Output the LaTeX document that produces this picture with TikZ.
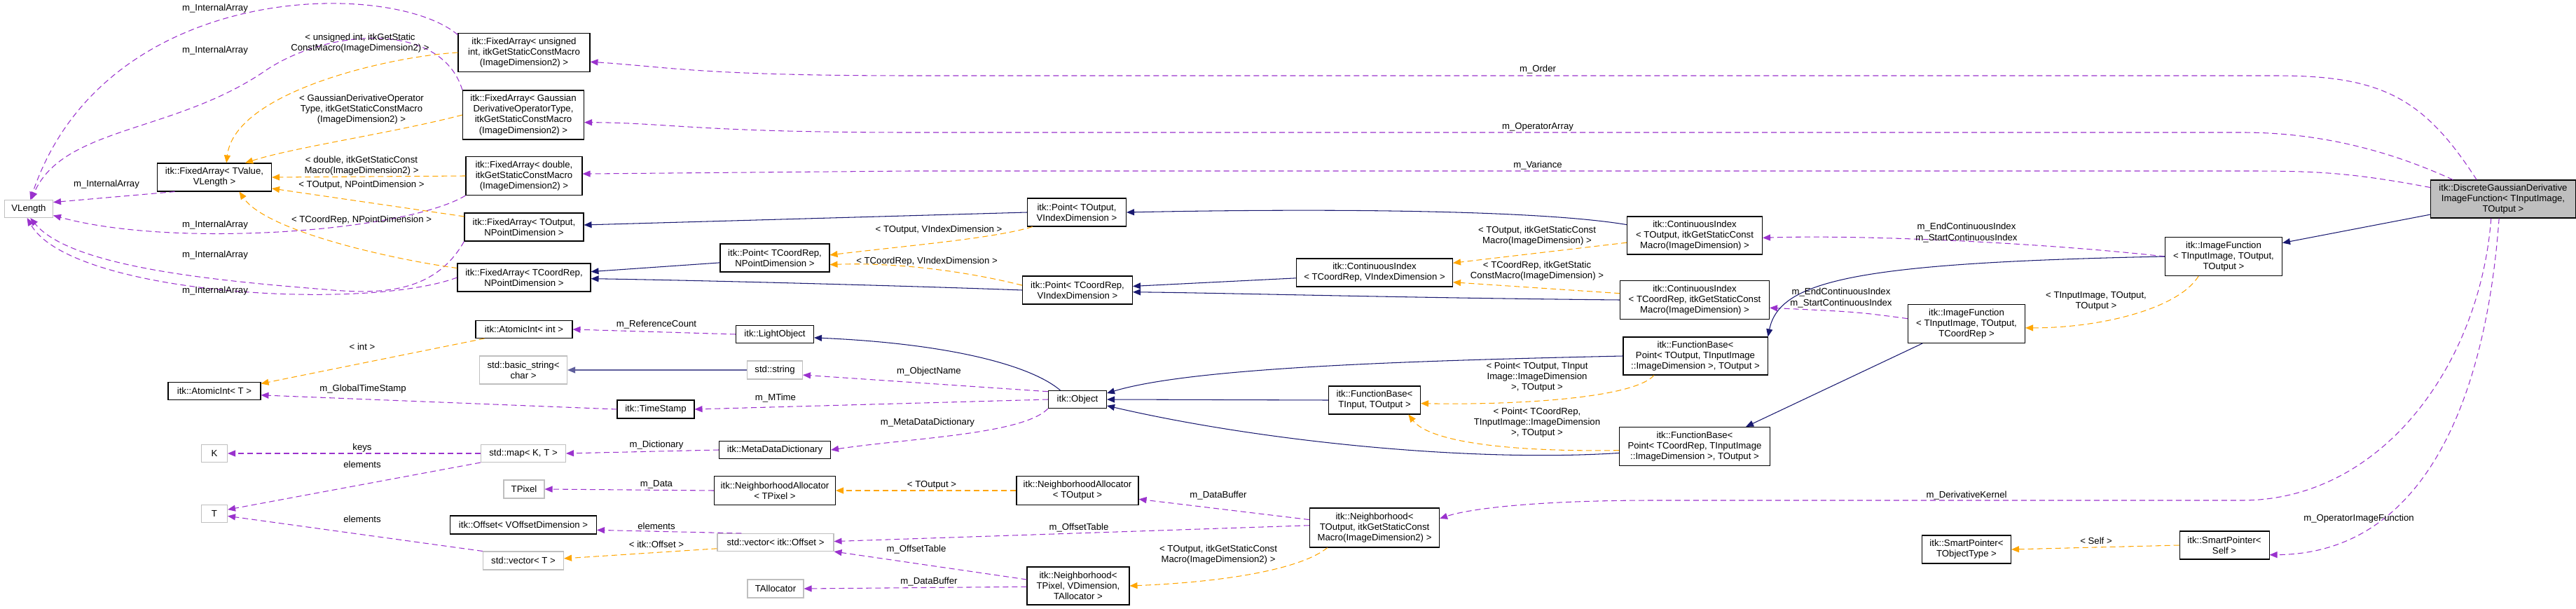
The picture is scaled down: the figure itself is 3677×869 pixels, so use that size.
\documentclass[tikz,border=0pt]{standalone}
\usepackage{fontspec}
\setmainfont{Liberation Sans}
\usetikzlibrary{arrows.meta}
\definecolor{usecolor}{HTML}{9A32CD}
\definecolor{tmplcolor}{HTML}{FFA500}
\definecolor{inhcolor}{HTML}{191970}
\definecolor{extcolor}{HTML}{BFBFBF}
\begin{document}
\begin{tikzpicture}[
    x=0.2mm, y=-0.2mm,
    cls/.style={draw=black,fill=white,line width=0.6pt,align=center,inner sep=1pt,font=\fontsize{7.5}{8.6}\selectfont},
    ext/.style={cls,draw=extcolor},
    lbl/.style={align=center,inner sep=0pt,font=\fontsize{7.5}{8.6}\selectfont},
    use/.style={usecolor,densely dashed,dash pattern=on 1.6mm off 1mm,line width=0.6pt,-{Triangle[length=2.2mm,width=1.8mm]}},
    tmpl/.style={use,tmplcolor},
    inh/.style={inhcolor,line width=0.6pt,-{Triangle[length=2.2mm,width=1.8mm]}}
  ]
    \useasboundingbox (0,0) rectangle (3677,869);

    % classes, left part
    \node[ext,minimum width=13.8mm,minimum height=5mm] (VLength) at (41,298) {VLength};
    \node[cls,minimum width=32.6mm,minimum height=8mm] (faT) at (306,253) {itk::FixedArray< TValue,\\ VLength >};
    \node[cls,minimum width=37.6mm,minimum height=11mm] (faU) at (748,75) {itk::FixedArray< unsigned\\ int, itkGetStaticConstMacro\\(ImageDimension2) >};
    \node[cls,minimum width=34.6mm,minimum height=14mm] (faG) at (747,164) {itk::FixedArray< Gaussian\\DerivativeOperatorType,\\ itkGetStaticConstMacro\\(ImageDimension2) >};
    \node[cls,minimum width=33.2mm,minimum height=11mm] (faD) at (748,251) {itk::FixedArray< double,\\ itkGetStaticConstMacro\\(ImageDimension2) >};
    \node[cls,minimum width=34mm,minimum height=8mm] (faO) at (748,324) {itk::FixedArray< TOutput,\\ NPointDimension >};
    \node[cls,minimum width=38mm,minimum height=8mm] (faC) at (748,396) {itk::FixedArray< TCoordRep,\\ NPointDimension >};
    \node[cls,minimum width=31.2mm,minimum height=8mm] (ptCN) at (1106,368) {itk::Point< TCoordRep,\\ NPointDimension >};
    \node[cls,minimum width=27.6mm,minimum height=5mm] (aiInt) at (748,470) {itk::AtomicInt< int >};
    \node[cls,minimum width=22.2mm,minimum height=5mm] (LightObject) at (1106,477) {itk::LightObject};
    \node[ext,minimum width=25mm,minimum height=8mm] (bstr) at (747,528) {std::basic\_string<\\ char >};
    \node[ext,minimum width=15.8mm,minimum height=5.2mm] (sstr) at (1106,528) {std::string};
    \node[cls,minimum width=26.4mm,minimum height=5mm] (aiT) at (306,558) {itk::AtomicInt< T >};
    \node[cls,minimum width=22mm,minimum height=5.2mm] (TimeStamp) at (936,584) {itk::TimeStamp};
    \node[ext,minimum width=7.4mm,minimum height=5mm] (K) at (306,647) {K};
    \node[ext,minimum width=24.2mm,minimum height=5mm] (map) at (747,647) {std::map< K, T >};
    \node[cls,minimum width=31.8mm,minimum height=5mm] (mdd) at (1106,642) {itk::MetaDataDictionary};
    \node[ext,minimum width=11.6mm,minimum height=5.2mm] (TPixel) at (748,698) {TPixel};
    \node[cls,minimum width=34.6mm,minimum height=8.2mm] (naP) at (1106,700) {itk::NeighborhoodAllocator\\< TPixel >};
    \node[ext,minimum width=7.4mm,minimum height=5mm] (T) at (306,733) {T};
    \node[cls,minimum width=41.8mm,minimum height=5.2mm] (off) at (747,749) {itk::Offset< VOffsetDimension >};
    \node[ext,minimum width=33.2mm,minimum height=5mm] (vecOff) at (1107,774) {std::vector< itk::Offset >};
    \node[ext,minimum width=23mm,minimum height=5.2mm] (vecT) at (747,800) {std::vector< T >};
    \node[ext,minimum width=16mm,minimum height=5.2mm] (TAlloc) at (1107,840) {TAllocator};

    % classes, middle part
    \node[cls,minimum width=28.2mm,minimum height=8mm] (ptOV) at (1537,303) {itk::Point< TOutput,\\ VIndexDimension >};
    \node[cls,minimum width=31.4mm,minimum height=8mm] (ptCV) at (1538,414) {itk::Point< TCoordRep,\\ VIndexDimension >};
    \node[cls,minimum width=44.6mm,minimum height=8mm] (ciCV) at (1962,389) {itk::ContinuousIndex\\< TCoordRep, VIndexDimension >};
    \node[cls,minimum width=38.6mm,minimum height=10.8mm] (ciO) at (2419,336) {itk::ContinuousIndex\\< TOutput, itkGetStaticConst\\Macro(ImageDimension) >};
    \node[cls,minimum width=42.6mm,minimum height=11mm] (ciC) at (2419,428) {itk::ContinuousIndex\\< TCoordRep, itkGetStaticConst\\Macro(ImageDimension) >};
    \node[cls,minimum width=16.6mm,minimum height=5mm] (Object) at (1538,570) {itk::Object};
    \node[cls,minimum width=26.2mm,minimum height=8mm] (fbIO) at (1962,571) {itk::FunctionBase<\\ TInput, TOutput >};
    \node[cls,minimum width=41.2mm,minimum height=10.8mm] (fbO) at (2420,508) {itk::FunctionBase<\\ Point< TOutput, TInputImage\\::ImageDimension >, TOutput >};
    \node[cls,minimum width=43mm,minimum height=11mm] (fbC) at (2419,637) {itk::FunctionBase<\\ Point< TCoordRep, TInputImage\\::ImageDimension >, TOutput >};
    \node[cls,minimum width=34.8mm,minimum height=8.2mm] (naO) at (1538,700) {itk::NeighborhoodAllocator\\< TOutput >};
    \node[cls,minimum width=37mm,minimum height=11.2mm] (nbO) at (1962,753) {itk::Neighborhood<\\ TOutput, itkGetStaticConst\\Macro(ImageDimension2) >};
    \node[cls,minimum width=29.2mm,minimum height=10.8mm] (nbP) at (1539,836) {itk::Neighborhood<\\ TPixel, VDimension,\\ TAllocator >};

    % classes, right part
    \node[cls,fill=extcolor,minimum width=41.4mm,minimum height=10.8mm] (DGIF) at (3573,284) {itk::DiscreteGaussianDerivative\\ImageFunction< TInputImage,\\ TOutput >};
    \node[cls,minimum width=33.4mm,minimum height=11mm] (ifO) at (3174,366) {itk::ImageFunction\\< TInputImage, TOutput,\\ TOutput >};
    \node[cls,minimum width=33.4mm,minimum height=11mm] (ifC) at (2807,462) {itk::ImageFunction\\< TInputImage, TOutput,\\ TCoordRep >};
    \node[cls,minimum width=25.4mm,minimum height=8mm] (spT) at (2807,784) {itk::SmartPointer<\\ TObjectType >};
    \node[cls,minimum width=25.6mm,minimum height=8mm] (spS) at (3175,778) {itk::SmartPointer<\\ Self >};

    % members
    \draw[use] (faU.165) .. controls (560,-30) and (150,-30) .. (VLength.80);
    \draw[use] (faG.north west) .. controls (630,30) and (470,40) .. (380,100) .. controls (250,190) and (90,180) .. (VLength.75);
    \draw[use] (faT.200) -- (VLength.15);
    \draw[use] (faD.south west) .. controls (580,330) and (250,355) .. (VLength.-15);
    \draw[use] (faO.south west) .. controls (620,420) and (540,420) .. (464,413) .. controls (300,400) and (100,380) .. (VLength.-80);
    \draw[use] (faC.west) .. controls (520,445) and (100,420) .. (VLength.-100);
    \draw[use] (DGIF.144) .. controls (3460,140) and (3400,108) .. (3250,108) -- (1300,108) .. controls (1000,108) and (950,95) .. (faU.-8);
    \draw[use] (DGIF.159) .. controls (3400,210) and (3300,189) .. (3200,189) -- (1300,189) .. controls (1000,189) and (950,175) .. (faG.-7);
    \draw[use] (DGIF.171) .. controls (3350,245) and (3300,244) .. (3200,244) -- (1300,244) -- (faD.2);
    \draw[use] (ifO.west) .. controls (2900,345) and (2650,335) .. (ciO.-2);
    \draw[use] (ifC.175) .. controls (2650,445) .. (ciC.-6);
    \draw[use] (LightObject.west) -- (aiInt.east);
    \draw[use] (Object.165) -- (sstr.-10);
    \draw[use] (Object.west) -- (TimeStamp.east);
    \draw[use] (TimeStamp.west) -- (aiT.-5);
    \draw[use] (Object.south west) .. controls (1460,620) and (1300,625) .. (mdd.east);
    \draw[use] (mdd.west) -- (map.east);
    \draw[use] (map.west) -- (K.east);
    \draw[use] (map.south west) -- (T.17);
    \draw[use] (vecT.north west) -- (T.-10);
    \draw[use] (naP.west) -- (TPixel.east);
    \draw[use] (vecOff.165) -- (off.-4);
    \draw[use] (nbO.173) -- (naO.-8);
    \draw[use] (nbO.178) -- (vecOff.1);
    \draw[use] (nbP.173) -- (vecOff.south east);
    \draw[use] (nbP.181) -- (TAlloc.east);
    \draw[use] (DGIF.-122) .. controls (3540,520) and (3400,714) .. (3200,714) -- (2360,714) .. controls (2200,714) and (2100,725) .. (nbO.8);
    \draw[use] (DGIF.-102) .. controls (3550,550) and (3470,790) .. (spS.-12);

    % template instances
    \draw[tmpl] (faU.west) .. controls (560,80) and (335,130) .. (faT.50);
    \draw[tmpl] (faG.west) .. controls (560,190) and (420,210) .. (faT.25);
    \draw[tmpl] (faD.west) -- (faT.east);
    \draw[tmpl] (faO.170) -- (faT.-11);
    \draw[tmpl] (faC.172) .. controls (560,370) and (380,330) .. (faT.-30);
    \draw[tmpl] (ptOV.-162) .. controls (1420,340) and (1300,350) .. (ptCN.3);
    \draw[tmpl] (ptCV.175) .. controls (1350,380) and (1250,375) .. (ptCN.-7);
    \draw[tmpl] (ciO.-174) -- (ciCV.7);
    \draw[tmpl] (ciC.175) -- (ciCV.-7);
    \draw[tmpl] (fbO.-155) .. controls (2330,570) and (2150,578) .. (fbIO.-4);
    \draw[tmpl] (fbC.-177) .. controls (2150,645) and (2040,630) .. (fbIO.-23);
    \draw[tmpl] (aiInt.-167) -- (aiT.9);
    \draw[tmpl] (naO.west) -- (naP.east);
    \draw[tmpl] (vecOff.-174) -- (vecT.3);
    \draw[tmpl] (nbO.-157) .. controls (1860,810) and (1760,830) .. (nbP.east);
    \draw[tmpl] (ifO.-142) .. controls (3110,440) and (3000,468) .. (ifC.-4);
    \draw[tmpl] (spS.west) -- (spT.east);

    % inheritance
    \draw[inh] (DGIF.-168) -- (ifO.13);
    \draw[inh] (ifO.west) .. controls (2650,375) and (2540,400) .. (fbO.north east);
    \draw[inh] (ifC.-156) -- (fbC.21);
    \draw[inh] (ciO.171) .. controls (2200,300) and (1900,297) .. (ptOV.east);
    \draw[inh] (ptOV.west) -- (faO.2);
    \draw[inh] (ptCN.-175) -- (faC.5);
    \draw[inh] (ptCV.west) .. controls (1300,408) and (1000,400) .. (faC.-1);
    \draw[inh] (ciCV.-176) -- (ptCV.4);
    \draw[inh] (ciC.west) .. controls (2000,425) and (1750,418) .. (ptCV.-2);
    \draw[inh,inhcolor!70] (sstr.west) -- (bstr.east);
    \draw[inh] (Object.152) .. controls (1470,520) and (1350,490) .. (LightObject.-5);
    \draw[inh] (fbO.west) .. controls (2000,515) and (1700,525) .. (Object.12);
    \draw[inh] (fbIO.west) -- (Object.east);
    \draw[inh] (fbC.-175) .. controls (2100,660) and (1800,630) .. (Object.-12);

    % member labels
    \node[lbl] (lIA1) at (307,12) {m\_InternalArray};
    \node[lbl] (lIA2) at (307,72) {m\_InternalArray};
    \node[lbl] (lIA3) at (152,263) {m\_InternalArray};
    \node[lbl] (lIA4) at (307,321) {m\_InternalArray};
    \node[lbl] (lIA5) at (307,364) {m\_InternalArray};
    \node[lbl] (lIA6) at (307,415) {m\_InternalArray};
    \node[lbl] (lOrder) at (2195,99) {m\_Order};
    \node[lbl] (lOpArray) at (2195,181) {m\_OperatorArray};
    \node[lbl] (lVariance) at (2195,236) {m\_Variance};
    \node[lbl] (lIdxO) at (2807,332) {m\_EndContinuousIndex\\m\_StartContinuousIndex};
    \node[lbl] (lIdxC) at (2628,425) {m\_EndContinuousIndex\\m\_StartContinuousIndex};
    \node[lbl] (lRefCount) at (937,463) {m\_ReferenceCount};
    \node[lbl] (lObjName) at (1326,530) {m\_ObjectName};
    \node[lbl] (lMTime) at (1107,568) {m\_MTime};
    \node[lbl] (lGTS) at (518,555) {m\_GlobalTimeStamp};
    \node[lbl] (lMDD) at (1324,603) {m\_MetaDataDictionary};
    \node[lbl] (lDict) at (937,635) {m\_Dictionary};
    \node[lbl] (lKeys) at (517,639) {keys};
    \node[lbl] (lElemMap) at (517,663) {elements};
    \node[lbl] (lElemVec) at (517,741) {elements};
    \node[lbl] (lData) at (937,691) {m\_Data};
    \node[lbl] (lElemOff) at (937,751) {elements};
    \node[lbl] (lDataBuf) at (1739,707) {m\_DataBuffer};
    \node[lbl] (lOffTab) at (1540,753) {m\_OffsetTable};
    \node[lbl] (lOffTabP) at (1308,784) {m\_OffsetTable};
    \node[lbl] (lDataBufP) at (1326,830) {m\_DataBuffer};
    \node[lbl] (lDerivKernel) at (2807,707) {m\_DerivativeKernel};
    \node[lbl] (lOpImgFn) at (3367,740) {m\_OperatorImageFunction};

    % template labels
    \node[lbl] (tU) at (514,62) {< unsigned int, itkGetStatic\\ConstMacro(ImageDimension2) >};
    \node[lbl] (tG) at (516,156) {< GaussianDerivativeOperator\\Type, itkGetStaticConstMacro\\(ImageDimension2) >};
    \node[lbl] (tD) at (516,237) {< double, itkGetStaticConst\\Macro(ImageDimension2) >};
    \node[lbl] (tO) at (516,264) {< TOutput, NPointDimension >};
    \node[lbl] (tC) at (516,314) {< TCoordRep, NPointDimension >};
    \node[lbl] (tOV) at (1340,328) {< TOutput, VIndexDimension >};
    \node[lbl] (tCV) at (1323,373) {< TCoordRep, VIndexDimension >};
    \node[lbl] (tCiO) at (2194,337) {< TOutput, itkGetStaticConst\\Macro(ImageDimension) >};
    \node[lbl] (tCiC) at (2194,387) {< TCoordRep, itkGetStatic\\ConstMacro(ImageDimension) >};
    \node[lbl] (tFbO) at (2194,538) {< Point< TOutput, TInput\\Image::ImageDimension\\>, TOutput >};
    \node[lbl] (tFbC) at (2194,603) {< Point< TCoordRep,\\TInputImage::ImageDimension\\>, TOutput >};
    \node[lbl] (tInt) at (517,495) {< int >};
    \node[lbl] (tNaO) at (1330,692) {< TOutput >};
    \node[lbl] (tOff) at (937,777) {< itk::Offset >};
    \node[lbl] (tNbO) at (1739,792) {< TOutput, itkGetStaticConst\\Macro(ImageDimension2) >};
    \node[lbl] (tIf) at (2992,430) {< TInputImage, TOutput,\\TOutput >};
    \node[lbl] (tSelf) at (2992,772) {< Self >};
  \end{tikzpicture}
\end{document}
